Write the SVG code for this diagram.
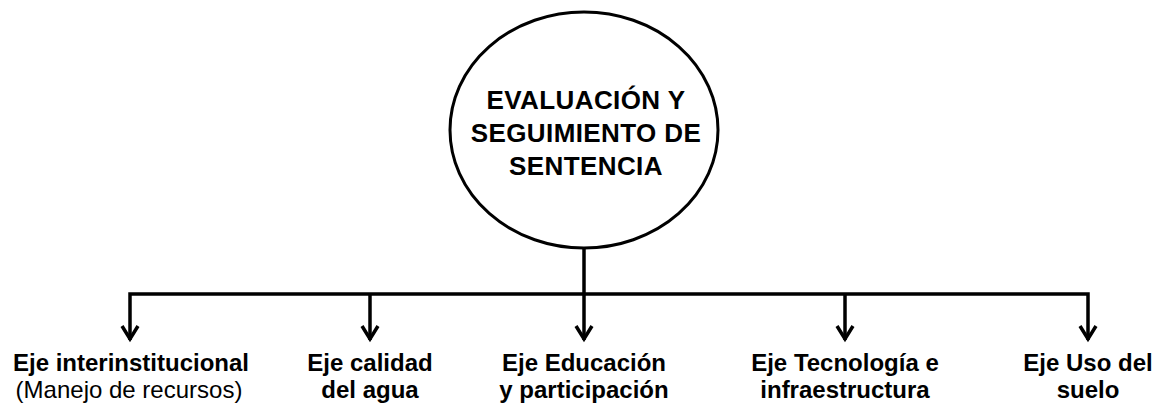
<svg xmlns="http://www.w3.org/2000/svg" width="1160" height="405" viewBox="0 0 1160 405">
<style>
.conn{fill:none;stroke:#000;stroke-width:3.5;stroke-linejoin:miter}
.head{fill:none;stroke:#000;stroke-width:3.5;stroke-linecap:butt;stroke-linejoin:miter}
.title{font-family:"Liberation Sans",Arial,sans-serif;font-weight:bold;font-size:26px;letter-spacing:0.4px;text-anchor:middle;fill:#000}
.lbl{font-family:"Liberation Sans",Arial,sans-serif;font-weight:bold;font-size:24px;text-anchor:middle;fill:#000}
.sub{font-family:"Liberation Sans",Arial,sans-serif;font-size:24px;text-anchor:middle;fill:#000}
</style>
<rect width="1160" height="405" fill="#fff"/>
<g id="connectors">
<path class="conn" d="M584,248 V294"/>
<path class="conn" d="M130,340 V294 H1088 V340"/>
<path class="conn" d="M370,294 V340"/>
<path class="conn" d="M584,294 V340"/>
<path class="conn" d="M845,294 V340"/>
<path class="head" d="M122,326 L130,339 L138,326"/>
<path class="head" d="M362,326 L370,339 L378,326"/>
<path class="head" d="M576,326 L584,339 L592,326"/>
<path class="head" d="M837,326 L845,339 L853,326"/>
<path class="head" d="M1080,326 L1088,339 L1096,326"/>
</g>
<g id="center">
<ellipse cx="584" cy="130" rx="134" ry="118" fill="#fff" stroke="#000" stroke-width="3"/>
<text class="title" x="586" y="109">EVALUACIÓN Y</text>
<text class="title" x="586" y="142">SEGUIMIENTO DE</text>
<text class="title" x="586" y="175">SENTENCIA</text>
</g>
<g id="eje1">
<text class="lbl" x="131" y="371">Eje interinstitucional</text>
<text class="sub" x="129" y="398">(Manejo de recursos)</text>
</g>
<g id="eje2">
<text class="lbl" x="370" y="371">Eje calidad</text>
<text class="lbl" x="370" y="398">del agua</text>
</g>
<g id="eje3">
<text class="lbl" x="584" y="371">Eje Educación</text>
<text class="lbl" x="584" y="398">y participación</text>
</g>
<g id="eje4">
<text class="lbl" x="845" y="371">Eje Tecnología e</text>
<text class="lbl" x="845" y="398">infraestructura</text>
</g>
<g id="eje5">
<text class="lbl" x="1088" y="371">Eje Uso del</text>
<text class="lbl" x="1088" y="398">suelo</text>
</g>
</svg>
